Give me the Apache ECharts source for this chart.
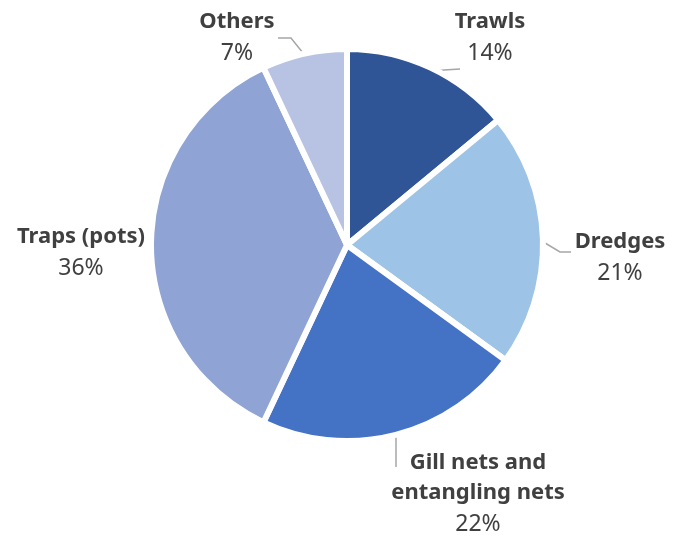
<!DOCTYPE html>
<html><head><meta charset="utf-8">
<script src="https://cdn.jsdelivr.net/npm/echarts@6/dist/echarts.min.js"></script>
<style>html,body{margin:0;padding:0;background:#fff}#c{width:679px;height:539px}</style>
</head><body><div id="c"></div>
<script>
const categories = ['Trawls', 'Dredges', 'Gill nets and\nentangling nets', 'Traps (pots)', 'Others'];
const values = [14, 21, 22, 36, 7];
const colors = ['#2F5597', '#9DC3E6', '#4472C4', '#8FA3D4', '#B8C3E3'];
const labelPos = [[490, 38], [620, 258], [478, 494], [81, 253], [237, 38]];
const linePts = [
  [[428, 72], [444, 70], [460, 69]],
  [[540, 240], [560, 252], [571, 252]],
  [[396, 432], [396, 450], [396, 467]],
  null,
  [[307, 58], [291, 38], [278, 38]]
];

const chart = echarts.init(document.getElementById('c'));
chart.setOption({
  animation: false,
  series: [{
    type: 'pie',
    center: [347, 245],
    radius: 196,
    startAngle: 90,
    clockwise: true,
    itemStyle: { borderColor: '#fff', borderWidth: 6 },
    data: categories.map((n, i) => ({
      name: n, value: values[i], itemStyle: { color: colors[i] },
      labelLine: { show: i !== 3 }
    })),
    label: {
      show: true,
      position: 'outside',
      overflow: 'none',
      color: '#404040',
      fontFamily: 'Noto Sans',
      align: 'center',
      formatter: p => p.name.split('\n').map(s => '{n|' + s + '}').join('\n') + '\n{p|' + p.value + '%}',
      rich: {
        n: { fontFamily: 'Noto Sans', fontWeight: 'bold', fontSize: 22, color: '#404040', lineHeight: 30, align: 'center' },
        p: { fontFamily: 'Noto Sans', fontSize: 23, color: '#404040', lineHeight: 32, align: 'center' }
      }
    },
    labelLine: { show: true, length: 12, length2: 14, lineStyle: { color: '#A6A6A6', width: 1.5 } },
    labelLayout: p => {
      const r = { x: labelPos[p.dataIndex][0], y: labelPos[p.dataIndex][1], align: 'center', verticalAlign: 'middle' };
      if (linePts[p.dataIndex]) r.labelLinePoints = linePts[p.dataIndex];
      return r;
    }
  }]
});
</script></body></html>
